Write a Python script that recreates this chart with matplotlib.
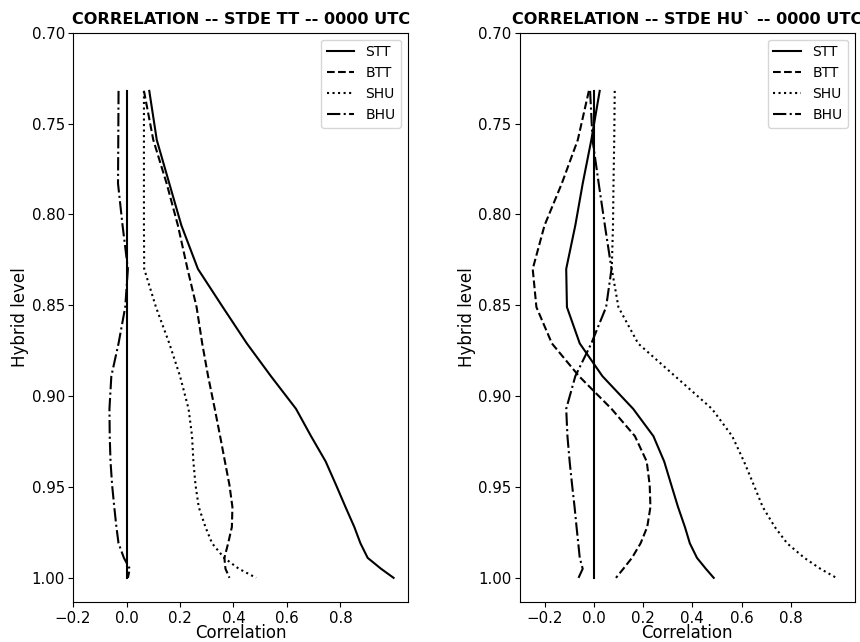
import numpy as np
import matplotlib
matplotlib.use("Agg")
import matplotlib.pyplot as plt

# hybrid levels (y axis)
levels = [0.732, 0.759, 0.783, 0.806, 0.830, 0.851, 0.871, 0.889, 0.907,
          0.922, 0.936, 0.949, 0.961, 0.972, 0.981, 0.989, 0.995, 1.000]

# STDE TT panel
tt_stt = [0.085, 0.113, 0.160, 0.205, 0.267, 0.360, 0.450, 0.540, 0.634,
          0.690, 0.745, 0.784, 0.819, 0.852, 0.875, 0.902, 0.952, 0.999]
tt_btt = [0.065, 0.100, 0.150, 0.192, 0.228, 0.262, 0.283, 0.305, 0.330,
          0.350, 0.368, 0.385, 0.396, 0.394, 0.380, 0.366, 0.370, 0.385]
tt_shu = [0.065, 0.065, 0.065, 0.065, 0.066, 0.110, 0.160, 0.200, 0.232,
          0.245, 0.250, 0.258, 0.270, 0.295, 0.320, 0.365, 0.420, 0.485]
tt_bhu = [-0.030, -0.031, -0.032, -0.015, 0.005, -0.005, -0.030, -0.057, -0.064,
          -0.063, -0.060, -0.054, -0.046, -0.038, -0.030, -0.010, 0.012, 0.005]

# STDE HU panel
hu_stt = [0.024, -0.010, -0.045, -0.075, -0.112, -0.109, -0.057, 0.035, 0.160,
          0.242, 0.286, 0.315, 0.342, 0.370, 0.390, 0.419, 0.455, 0.487]
hu_btt = [-0.020, -0.065, -0.130, -0.200, -0.248, -0.233, -0.170, -0.060, 0.072,
          0.167, 0.215, 0.227, 0.230, 0.217, 0.190, 0.155, 0.120, 0.090]
hu_shu = [0.085, 0.083, 0.080, 0.078, 0.073, 0.100, 0.180, 0.330, 0.480,
          0.562, 0.610, 0.650, 0.686, 0.735, 0.785, 0.855, 0.920, 0.985]
hu_bhu = [-0.015, -0.005, 0.020, 0.045, 0.072, 0.050, -0.010, -0.075, -0.112,
          -0.107, -0.098, -0.088, -0.078, -0.070, -0.063, -0.057, -0.045, -0.062]

names = ["STT", "BTT", "SHU", "BHU"]
styles = ["-", "--", ":", "-."]

panels = [
    ("CORRELATION -- STDE TT -- 0000 UTC", [tt_stt, tt_btt, tt_shu, tt_bhu], (-0.2, 1.053)),
    ("CORRELATION -- STDE HU` -- 0000 UTC", [hu_stt, hu_btt, hu_shu, hu_bhu], (-0.3, 1.06)),
]

fig, axs = plt.subplots(1, 2, figsize=(8.6, 6.42), dpi=100)
fig.subplots_adjust(left=0.085, right=0.994, bottom=0.062, top=0.949, wspace=0.334)

for ax, (title, series, xlim) in zip(axs, panels):
    for vals, name, ls in zip(series, names, styles):
        ax.plot(vals, levels, color="black", linestyle=ls, linewidth=1.5, label=name)
    # zero reference line
    ax.plot(np.zeros(len(levels)), levels, color="black", linewidth=1.5)
    ax.set_xlim(*xlim)
    ax.set_ylim(1.0134, 0.70)
    ax.set_xticks([-0.2, 0.0, 0.2, 0.4, 0.6, 0.8])
    ax.set_yticks([0.70, 0.75, 0.80, 0.85, 0.90, 0.95, 1.00])
    ax.tick_params(labelsize=10.8, pad=2.5)
    ax.set_title(title, fontsize=11.6, fontweight="bold")
    ax.set_xlabel("Correlation", fontsize=12, labelpad=-1)
    ax.set_ylabel("Hybrid level", fontsize=12, labelpad=2)
    ax.legend(loc="upper right", fontsize=10)

fig.savefig("out.png")
